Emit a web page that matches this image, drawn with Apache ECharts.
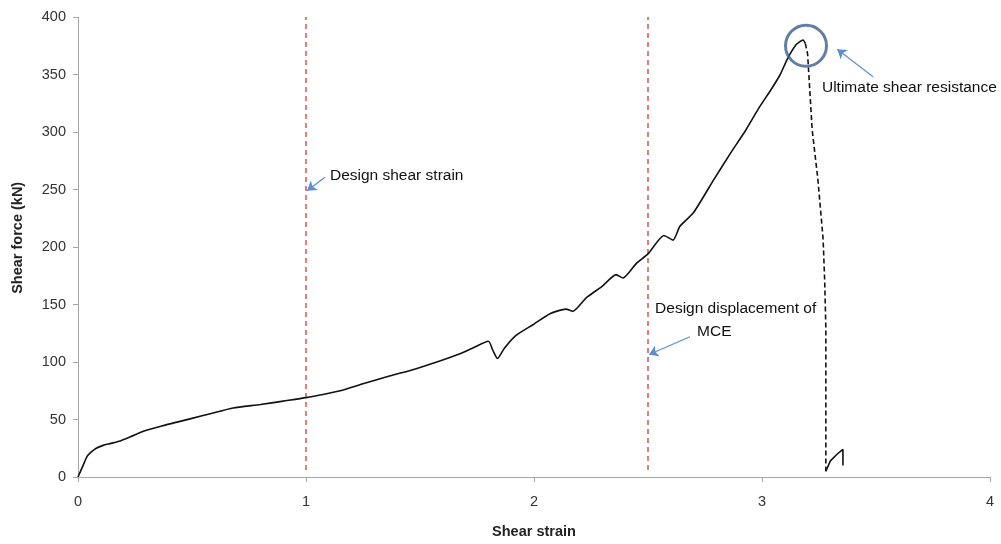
<!DOCTYPE html>
<html><head><meta charset="utf-8">
<script src="https://cdn.jsdelivr.net/npm/echarts@6/dist/echarts.min.js"></script>
<style>html,body{margin:0;padding:0;background:#fff}#c{width:1001px;height:544px}</style>
</head><body><div id="c"></div>
<script>
// Main loading curve (shear strain, shear force kN)
var mainCurve = [[0,0],[0.02,9],[0.04,18],[0.06,22],[0.08,25],[0.11,27.5],[0.14,29],[0.18,31],[0.23,35],[0.29,40],[0.36,44],[0.43,47.5],[0.5,51],[0.58,55],[0.68,60],[0.8,63],[0.9,66],[1.0,69],[1.08,72],[1.15,75],[1.25,81],[1.37,88],[1.48,94],[1.59,101],[1.66,106],[1.73,112],[1.8,118],[1.82,110],[1.84,103],[1.87,112],[1.92,123],[2.0,133],[2.07,142],[2.14,146],[2.17,144],[2.23,156],[2.3,166],[2.36,176],[2.39,173],[2.45,186],[2.5,194],[2.57,210],[2.61,206],[2.64,218],[2.7,230],[2.79,259],[2.86,281],[2.93,302],[2.99,322],[3.04,337],[3.08,350],[3.11,363],[3.15,376],[3.18,380],[3.19,377]];
// Failure drop (dashed)
var dropCurve = [[3.19,377],[3.2,368],[3.22,302],[3.245,259],[3.268,207],[3.275,170],[3.28,130],[3.28,60],[3.28,5]];
// Residual tail
var tailCurve = [[3.28,5],[3.3,14],[3.33,20],[3.355,24],[3.355,10]];
// Reference strains
var designStrain = 1.0;
var mceStrain = 2.5;
var ultimatePoint = [3.193, 375];
var xTicks = [0,1,2,3,4];
var yTicks = [0,50,100,150,200,250,300,350,400];

var chart = echarts.init(document.getElementById('c'));
var font = 'Liberation Sans, Arial, sans-serif';
var arrowColor = '#5b8fd0';
function arrow(a, b){ return [{coord:a},{coord:b}]; }
chart.setOption({
  animation:false,
  grid:{left:78,right:11,top:17,bottom:65},
  xAxis:{type:'value',min:xTicks[0],max:xTicks[xTicks.length-1],interval:1,
    name:'Shear strain',nameLocation:'middle',nameGap:47,
    nameTextStyle:{fontFamily:font,fontWeight:'bold',fontSize:14.5,color:'#222'},
    axisLine:{lineStyle:{color:'#a6a6a6'}},axisTick:{show:true,length:5,lineStyle:{color:'#a6a6a6'}},
    axisLabel:{fontFamily:font,fontSize:14.5,color:'#333',margin:17},splitLine:{show:false}},
  yAxis:{type:'value',min:yTicks[0],max:yTicks[yTicks.length-1],interval:50,
    axisLine:{show:true,lineStyle:{color:'#a6a6a6'}},axisTick:{show:true,length:5,lineStyle:{color:'#a6a6a6'}},
    axisLabel:{fontFamily:font,fontSize:14.5,color:'#333',margin:12},splitLine:{show:false}},
  series:[
    {type:'line',data:[[designStrain,6],[designStrain,400]],symbol:'none',
      lineStyle:{color:'#d9534f',width:1.5,type:[5,4]},z:1},
    {type:'line',data:[[mceStrain,6],[mceStrain,400]],symbol:'none',
      lineStyle:{color:'#d9534f',width:1.5,type:[5,4]},z:1},
    {type:'line',data:mainCurve,symbol:'none',smooth:0.2,lineStyle:{color:'#111',width:1.6},z:3,
      markLine:{silent:true,symbol:['none','arrow'],symbolSize:9,label:{show:false},
        lineStyle:{color:arrowColor,width:1.2,type:'solid'},
        data:[arrow([1.083,260.6],[1.005,249]),arrow([2.684,122],[2.505,106.5]),arrow([3.487,348],[3.33,372])]}},
    {type:'line',data:dropCurve,symbol:'none',lineStyle:{color:'#111',width:1.6,type:[5,3]},z:3},
    {type:'line',data:tailCurve,symbol:'none',lineStyle:{color:'#111',width:1.6},z:3},
    {type:'scatter',data:[ultimatePoint],symbol:'circle',symbolSize:41,
      itemStyle:{color:'rgba(0,0,0,0)',borderColor:'#3b5e91',borderWidth:3},z:4,silent:true}
  ]
});
function px(p){ return chart.convertToPixel({gridIndex:0}, p); }
var t1 = px([1.105,262]), t2 = px([2.531,146]), t3 = px([2.715,126.4]), t4 = px([3.263,338.5]);
var yt = px([0,208]);
var ts = {fontFamily:font,fontSize:15.5,fill:'#111',textVerticalAlign:'middle'};
chart.setOption({graphic:[
  {type:'text',x:t1[0],y:t1[1],style:Object.assign({text:'Design shear strain'},ts)},
  {type:'text',x:t2[0],y:t2[1],style:Object.assign({text:'Design displacement of'},ts)},
  {type:'text',x:t3[0],y:t3[1],style:Object.assign({text:'MCE'},ts)},
  {type:'text',x:t4[0],y:t4[1],style:Object.assign({text:'Ultimate shear resistance'},ts)},
  {type:'text',x:18,y:yt[1],rotation:Math.PI/2,
    style:{text:'Shear force (kN)',fontFamily:font,fontWeight:'bold',fontSize:14.5,fill:'#222',
      textAlign:'center',textVerticalAlign:'middle'}}
]});
</script></body></html>
